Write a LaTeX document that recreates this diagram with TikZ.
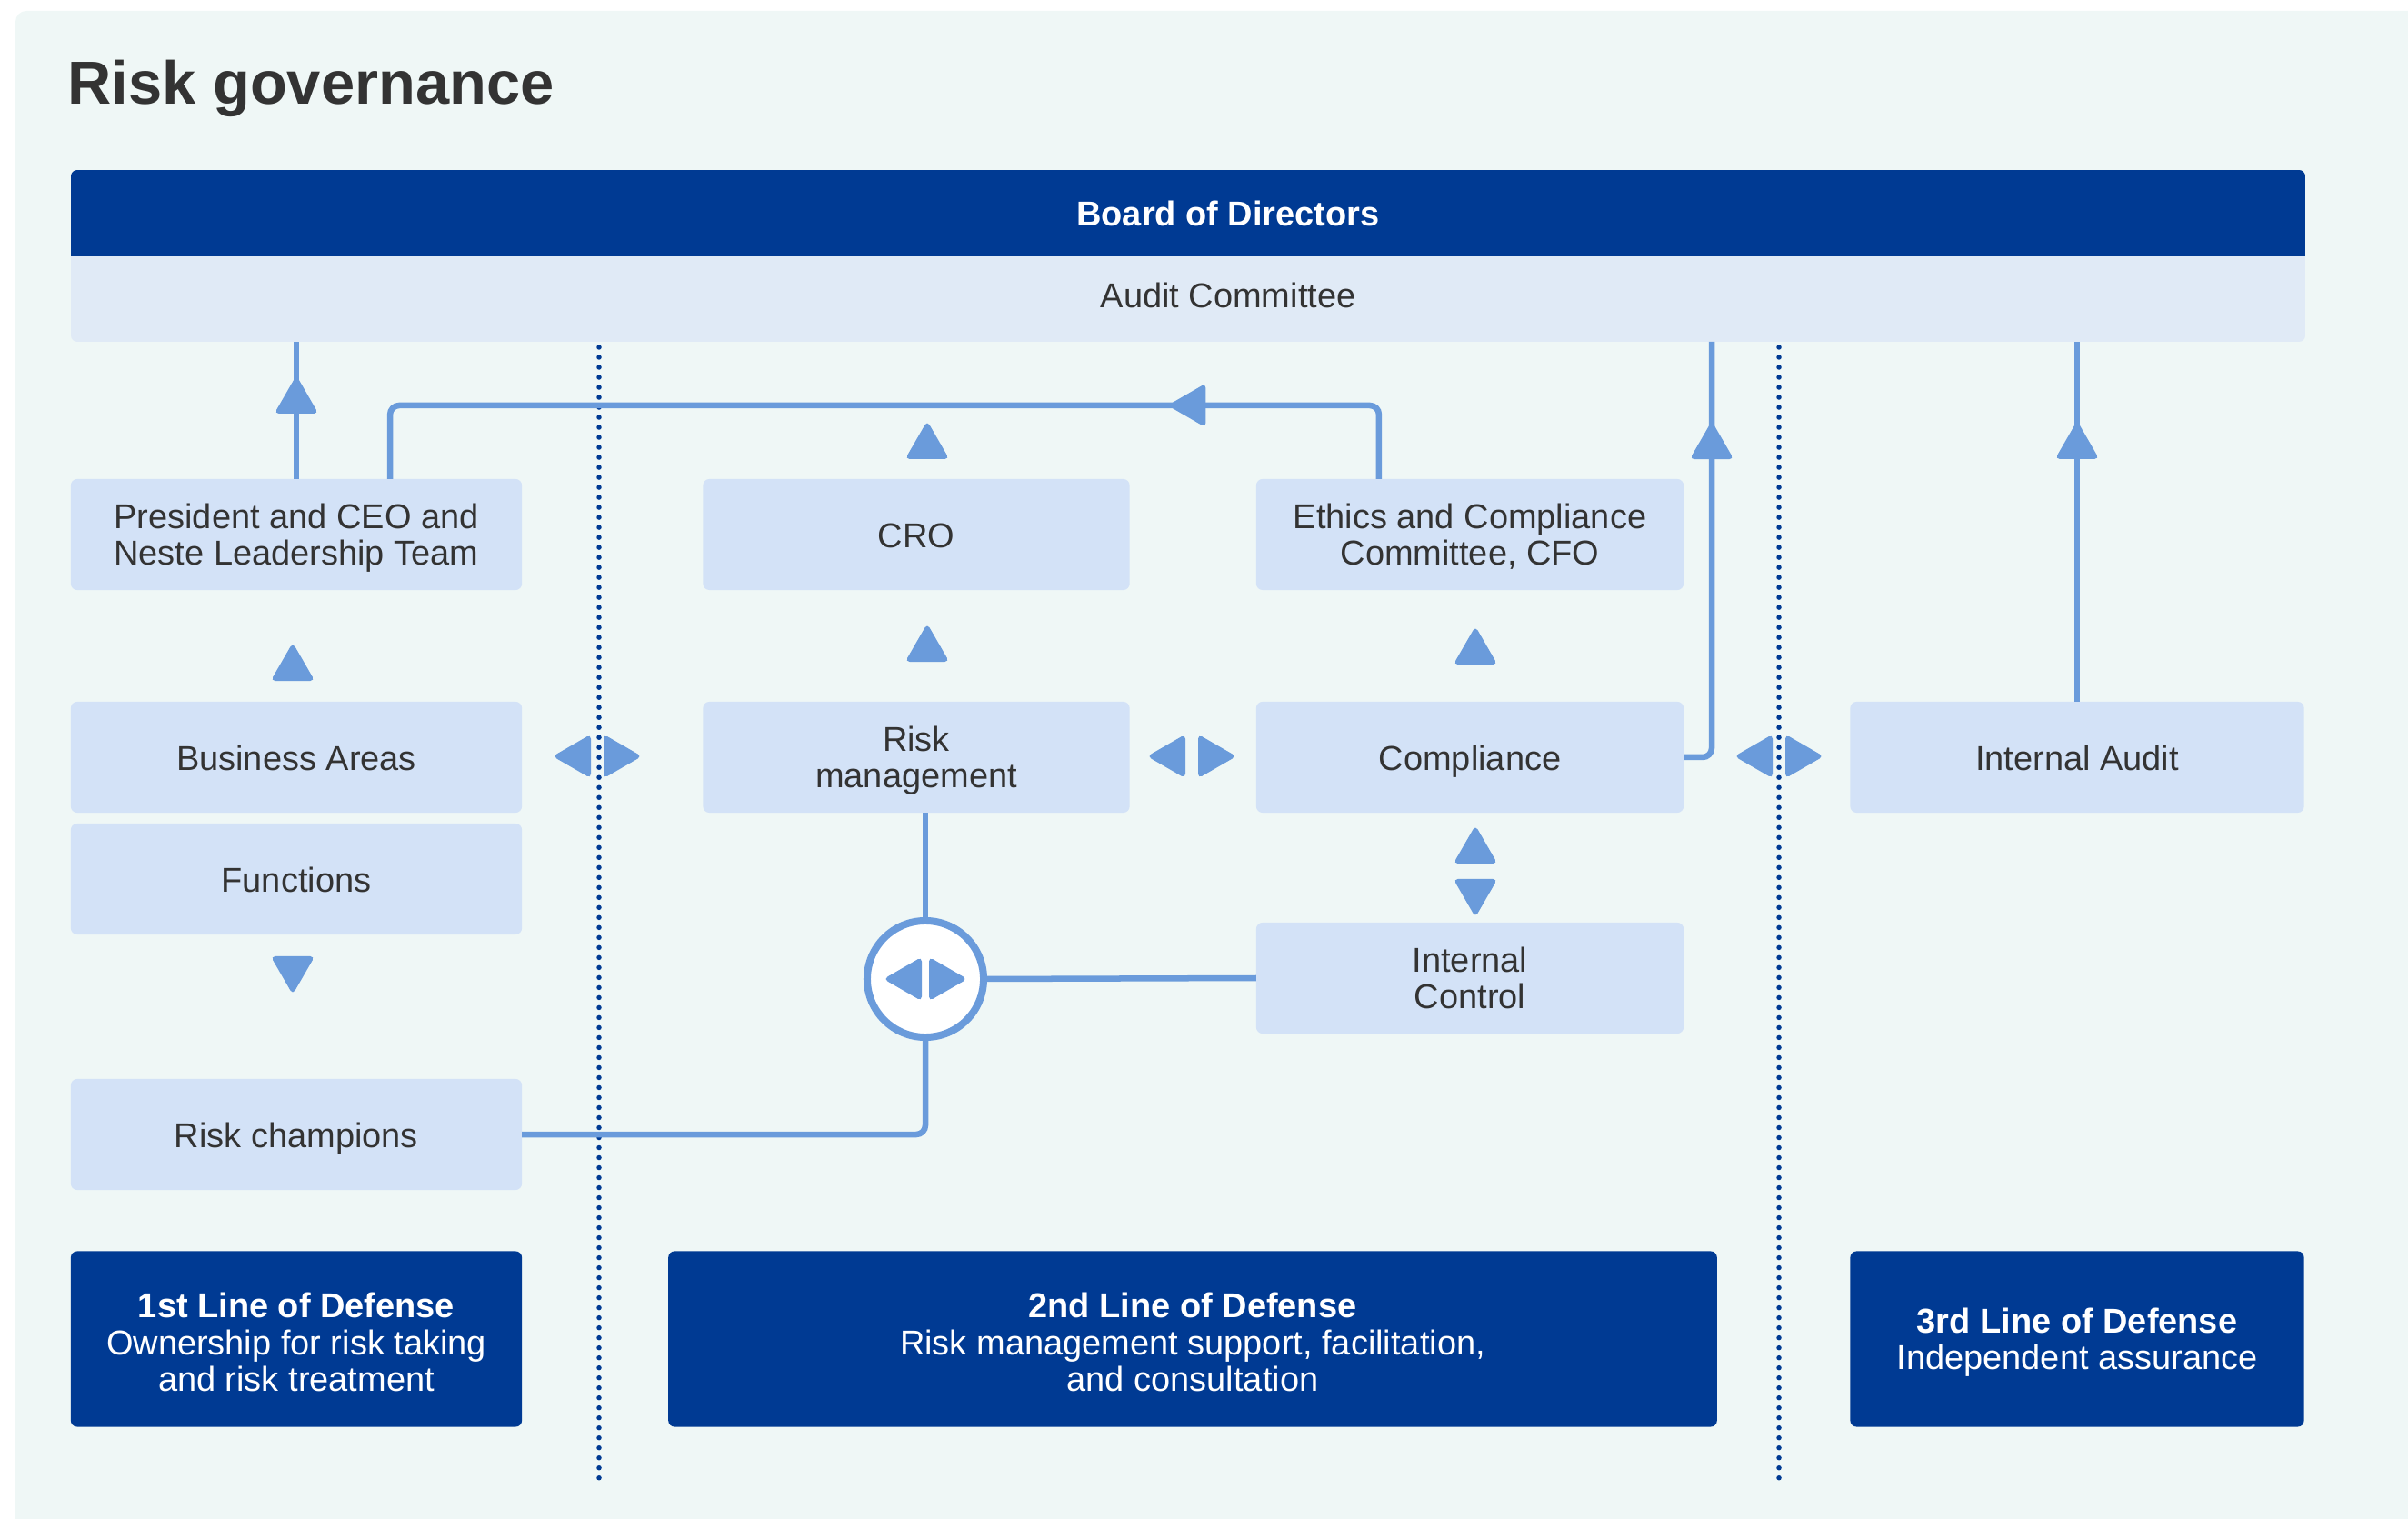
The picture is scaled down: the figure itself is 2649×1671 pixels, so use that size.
\documentclass[tikz,border=0pt]{standalone}
\usepackage{fontspec}
\setmainfont{Liberation Sans}
\usetikzlibrary{shapes.geometric}

\definecolor{panelbg}{RGB}{239,247,246}
\definecolor{navy}{RGB}{0,58,147}
\definecolor{boxblue}{RGB}{211,226,247}
\definecolor{auditblue}{RGB}{224,234,246}
\definecolor{lineblue}{RGB}{106,155,219}
\definecolor{txtgrey}{RGB}{51,51,51}

\begin{document}
\begin{tikzpicture}[x=0.01cm, y=-0.01cm,
        txt/.style={font=\fontsize{10.8}{11.5}\selectfont},
        box/.style={txt, fill=boxblue, text=txtgrey, rounded corners=0.07cm, align=center, inner sep=0, outer sep=0, minimum height=1.22cm},
        oneline/.style={text height=8.4pt, text depth=0pt},
        twolines/.style={text height=19.3pt, text depth=0pt},
        threelines/.style={text height=32.7pt, text depth=0pt},
        lod/.style={txt, fill=navy, text=white, rounded corners=0.07cm, align=center, inner sep=0, outer sep=0, minimum height=1.93cm},
        bar/.style={txt, inner sep=0, outer sep=0, minimum width=24.58cm, anchor=north},
        flow/.style={draw=lineblue, line width=0.065cm, rounded corners=0.1cm},
        tipU/.style={regular polygon, regular polygon sides=3, fill=lineblue, rounded corners=0.05cm, minimum size=0.56cm, inner sep=0, outer sep=0},
        tipD/.style={tipU, shape border rotate=180},
        tipL/.style={tipU, shape border rotate=90},
        tipR/.style={tipU, shape border rotate=-90},
        sep/.style={draw=navy, line width=0.055cm, line cap=round, dash pattern=on 0pt off 0.11cm}]

        \useasboundingbox (0,0) rectangle (2649,1671);
        \fill[panelbg, rounded corners=0.12cm] (17,12) rectangle (2720,1720); % background panel

        % title
        \node[anchor=base west, inner sep=0, text=txtgrey, font=\fontsize{19}{22}\selectfont\bfseries] (title) at (74,115) {Risk governance};

        % board and audit committee
        \begin{scope}
            \clip[rounded corners=0.07cm] (78,187) rectangle (2536,376);
            \node[bar, fill=navy, text=white, minimum height=0.95cm] (board) at (1307,187) {\hspace*{0.88cm}\textbf{Board of Directors}};
            \node[bar, fill=auditblue, text=txtgrey, minimum height=0.94cm, text height=7.9pt, text depth=2.4pt] (audit) at (board.south) {\hspace*{0.88cm}Audit Committee};
        \end{scope}

        % the two separators between the lines of defense
        \draw[sep] (659,382) -- (659,1635);
        \draw[sep] (1957,382) -- (1957,1635);

        % boxes
        \node[box, twolines, minimum width=4.96cm] (pres) at (326,588) {President and CEO and\\Neste Leadership Team};
        \node[box, oneline, minimum width=4.96cm] (ba) at (326,833) {Business Areas};
        \node[box, oneline, minimum width=4.96cm] (fun) at (326,967) {Functions};
        \node[box, oneline, minimum width=4.96cm] (rc) at (326,1248) {Risk champions};
        \node[box, oneline, minimum width=4.69cm] (cro) at (1008,588) {CRO};
        \node[box, twolines, minimum width=4.69cm] (rm) at (1008,833) {Risk\\management};
        \node[box, twolines, minimum width=4.70cm] (eth) at (1617,588) {Ethics and Compliance\\Committee, CFO};
        \node[box, oneline, minimum width=4.70cm] (comp) at (1617,833) {Compliance};
        \node[box, twolines, minimum width=4.70cm] (ic) at (1617,1076) {Internal\\Control};
        \node[box, oneline, minimum width=4.99cm] (ia) at (2285,833) {Internal Audit};

        % hub circle
        \node[circle, draw=lineblue, fill=white, line width=0.08cm, minimum size=1.28cm, inner sep=0, outer sep=0] (hub) at (1018,1077) {};

        % connectors up to the audit committee
        \coordinate (acR) at (1883,376);
        \coordinate (ecBend) at (1517,446);
        \draw[flow] (pres.north) -- node[tipU, pos=0.57] (a1) {} (pres.north |- audit.south);
        \draw[flow] ([xshift=-1cm]eth.north) |- node[tipL, pos=0.594] (a2) {} ([xshift=1.03cm]pres.north |- ecBend) -- ([xshift=1.03cm]pres.north);
        \draw[flow] (comp.east) -| node[tipU, pos=0.874] (a3) {} (acR);
        \draw[flow] (ia.north) -- node[tipU, pos=0.71] (a4) {} (ia.north |- audit.south);

        % connectors around the hub
        \draw[flow] (hub.north) -- (hub.north |- rm.south);
        \draw[flow] (hub.east) -- (ic.west);
        \draw[flow] (hub.south) |- (rc.east);
        \node[tipL] (hl) at (1000,1077) {};
        \node[tipR] (hr) at (1036,1077) {};

        % single arrows
        \node[tipU] (t1) at (322,735) {};
        \node[tipD] (t2) at (322,1066) {};
        \node[tipU] (t3) at (1020,491) {};
        \node[tipU] (t4) at (1020,714) {};
        \node[tipU] (t5) at (1623,717) {};
        \node[tipU] (t6) at (1623,936) {};
        \node[tipD] (t7) at (1623,981) {};

        % double arrows between the columns
        \foreach \x/\n in {657/a, 1311/b, 1957/c}{
            \node[tipL] (l\n) at (\x-21,832) {};
            \node[tipR] (r\n) at (\x+21,832) {};
        }

        % lines of defense
        \node[lod, threelines, minimum width=4.96cm] (lod1) at (326,1473) {\textbf{1st Line of Defense}\\Ownership for risk taking\\and risk treatment};
        \node[lod, threelines, minimum width=11.53cm] (lod2) at (1312,1473) {\textbf{2nd Line of Defense}\\Risk management support, facilitation,\\and consultation};
        \node[lod, twolines, minimum width=4.99cm] (lod3) at (2285,1473) {\textbf{3rd Line of Defense}\\Independent assurance};

    \end{tikzpicture}
\end{document}
